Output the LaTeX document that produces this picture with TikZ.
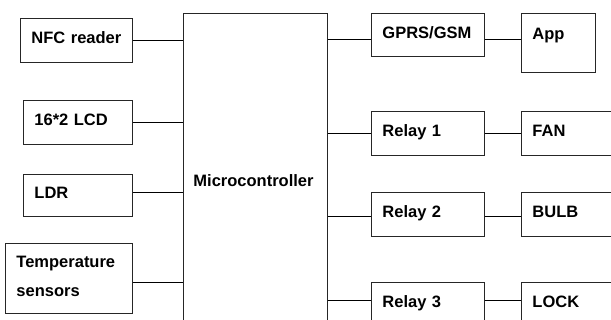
\documentclass[tikz,border=0pt]{standalone}
\usepackage{fontspec}
\setmainfont{Liberation Sans}
\begin{document}
\begin{tikzpicture}[x=1pt,y=-1pt,
  blk/.style={draw=black!85, line width=0.9pt, rectangle, anchor=north west,
    inner xsep=11pt, inner ysep=0pt, align=left,
    font=\fontsize{16.5}{29}\selectfont\bfseries,
    text height=12pt, text depth=5pt},
  wire/.style={draw=black, line width=0.9pt}]
\useasboundingbox (0,0) rectangle (611,320);
\clip (0,0) rectangle (611,320);
% inputs
\node[blk, minimum width=112pt, minimum height=44pt, text width=90pt] (nfc) at (20,18) {NFC reader};
\node[blk, minimum width=109pt, minimum height=44pt, text width=87pt] (lcd) at (23,100) {16*2 LCD};
\node[blk, minimum width=109pt, minimum height=42pt, text width=87pt] (ldr) at (23,174) {LDR};
\node[blk, minimum width=127pt, minimum height=70pt, text width=105pt, text height=12pt, text depth=33pt] (temp) at (5,243) {Temperature\\sensors};
% microcontroller
\node[blk, minimum width=144pt, minimum height=340pt, text width=124pt, inner xsep=10pt, text depth=5pt] (mcu) at (183,13) {Microcontroller};
% outputs
\node[blk, minimum width=113pt, minimum height=43pt, text width=91pt] (gprs) at (371,13) {GPRS/GSM};
\node[blk, minimum width=74pt, minimum height=59pt, text width=52pt, text depth=19pt] (app) at (521,13) {App};
\node[blk, minimum width=113pt, minimum height=44pt, text width=91pt] (r1) at (371,111) {Relay 1};
\node[blk, minimum width=120pt, minimum height=44pt, text width=98pt] (fan) at (521,111) {FAN};
\node[blk, minimum width=113pt, minimum height=44pt, text width=91pt] (r2) at (371,192) {Relay 2};
\node[blk, minimum width=120pt, minimum height=44pt, text width=98pt] (bulb) at (521,192) {BULB};
\node[blk, minimum width=113pt, minimum height=44pt, text width=91pt] (r3) at (371,282) {Relay 3};
\node[blk, minimum width=120pt, minimum height=44pt, text width=98pt] (lock) at (521,282) {LOCK};
% connectors left
\draw[wire] (nfc.east) -- (nfc.east -| mcu.west);
\draw[wire] (lcd.east) -- (lcd.east -| mcu.west);
\draw[wire] ([yshift=3pt]ldr.east) -- ([yshift=3pt]ldr.east -| mcu.west);
\draw[wire] ([yshift=-4pt]temp.east) -- ([yshift=-4pt]temp.east -| mcu.west);
% connectors right
\draw[wire] ([yshift=-4.5pt]gprs.west -| mcu.east) -- ([yshift=-4.5pt]gprs.west);
\draw[wire] ([yshift=-4.5pt]gprs.east) -- ([yshift=-4.5pt]gprs.east -| app.west);
\draw[wire] (r1.west -| mcu.east) -- (r1.west);
\draw[wire] (r1.east) -- (r1.east -| fan.west);
\draw[wire] ([yshift=-2pt]r2.west -| mcu.east) -- ([yshift=-2pt]r2.west);
\draw[wire] ([yshift=-2pt]r2.east) -- ([yshift=-2pt]r2.east -| bulb.west);
\draw[wire] ([yshift=4pt]r3.west -| mcu.east) -- ([yshift=4pt]r3.west);
\draw[wire] ([yshift=4pt]r3.east) -- ([yshift=4pt]r3.east -| lock.west);
\end{tikzpicture}
\end{document}
